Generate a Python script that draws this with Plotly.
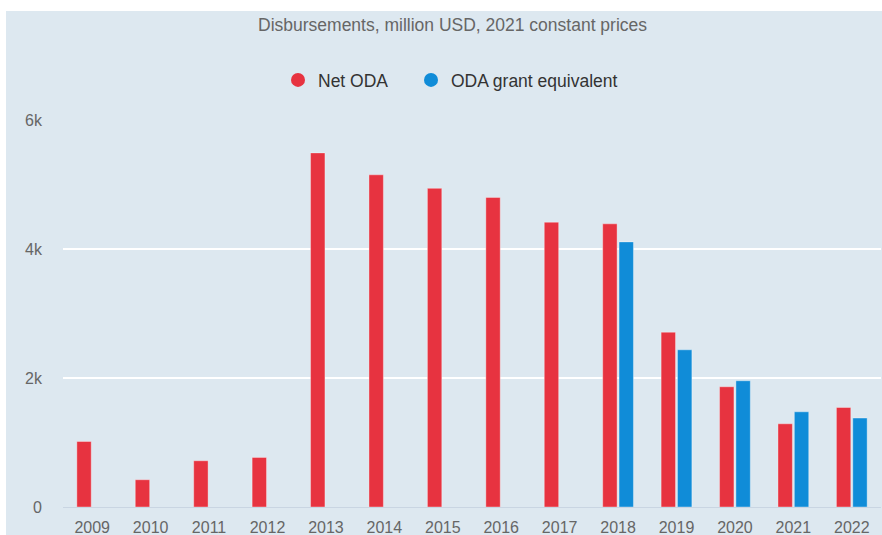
import plotly.graph_objects as go

# Disbursements, million USD, 2021 constant prices
years = ["2009", "2010", "2011", "2012", "2013", "2014", "2015",
         "2016", "2017", "2018", "2019", "2020", "2021", "2022"]
net_oda = [1016, 423, 717, 768, 5490, 5150, 4940,
           4800, 4415, 4390, 2710, 1864, 1290, 1543]
grant_equivalent = [None, None, None, None, None, None, None,
                    None, None, 4110, 2437, 1957, 1476, 1379]

y_tickvals = [0, 2000, 4000, 6000]
y_ticktext = ["0", "2k", "4k", "6k"]

RED = "#e73340"
BLUE = "#108cd8"
BG = "#dde8f0"
FONT = "Liberation Sans, Arial, sans-serif"

W, H = 882, 535
L, R, T, B = 63, 1, 120, 28
plot_w = W - L - R
plot_h = H - T - B


def px_x(px):
    return (px - L) / plot_w


def px_y(py):
    return (H - B - py) / plot_h


fig = go.Figure()

bar_line = dict(width=0.8, color="rgba(255,255,255,0.45)")
fig.add_trace(go.Bar(x=years, y=net_oda, name="Net ODA",
                     marker=dict(color=RED, line=bar_line),
                     showlegend=False))
fig.add_trace(go.Bar(x=years, y=grant_equivalent, name="ODA grant equivalent",
                     marker=dict(color=BLUE, line=bar_line),
                     showlegend=False))

# round legend symbols, one legend box per series
for name, color, leg in [("Net ODA", RED, "legend"),
                         ("ODA grant equivalent", BLUE, "legend2")]:
    fig.add_trace(go.Scatter(x=[None], y=[None], mode="markers", name=name,
                             marker=dict(color=color, size=14, symbol="circle"),
                             showlegend=True, legend=leg))

legend_style = dict(orientation="h", xanchor="left", y=px_y(80),
                    yanchor="middle",
                    font=dict(family=FONT, size=17.5, color="#333333"),
                    bgcolor="rgba(0,0,0,0)", itemclick=False)

fig.update_layout(
    width=W, height=H,
    margin=dict(l=L, r=R, t=T, b=B, pad=0),
    paper_bgcolor=BG,
    plot_bgcolor=BG,
    barmode="group",
    bargap=0.44,
    bargroupgap=0.12,
    font=dict(family=FONT, color="#666666", size=16),
    showlegend=True,
    legend=dict(x=px_x(278), **legend_style),
    legend2=dict(x=px_x(411), **legend_style),
    annotations=[dict(text="Disbursements, million USD, 2021 constant prices",
                      xref="paper", yref="paper", x=px_x(452), y=px_y(25),
                      xanchor="center", yanchor="middle", showarrow=False,
                      font=dict(family=FONT, size=17.5, color="#666666"))],
    shapes=[
        dict(type="rect", xref="paper", yref="paper", layer="below",
             x0=px_x(0), x1=px_x(W + 5), y0=px_y(11), y1=px_y(-5),
             fillcolor="white", line=dict(width=0)),
        dict(type="rect", xref="paper", yref="paper", layer="below",
             x0=px_x(-5), x1=px_x(6), y0=px_y(H + 5), y1=px_y(-5),
             fillcolor="white", line=dict(width=0)),
    ],
)

fig.update_xaxes(
    type="category", showgrid=False, showline=False, zeroline=False,
    ticks="", ticklabelstandoff=9, automargin=False,
    tickfont=dict(family=FONT, size=16, color="#666666"),
)
fig.update_yaxes(
    range=[0, 6000], tickvals=y_tickvals, ticktext=y_ticktext,
    showgrid=True, gridcolor="white", gridwidth=2,
    zeroline=True, zerolinecolor="#c9d5e2", zerolinewidth=1,
    showline=False, ticks="", ticklabelstandoff=20, automargin=False,
    tickfont=dict(family=FONT, size=16, color="#666666"),
)

fig.write_html("out.html")
